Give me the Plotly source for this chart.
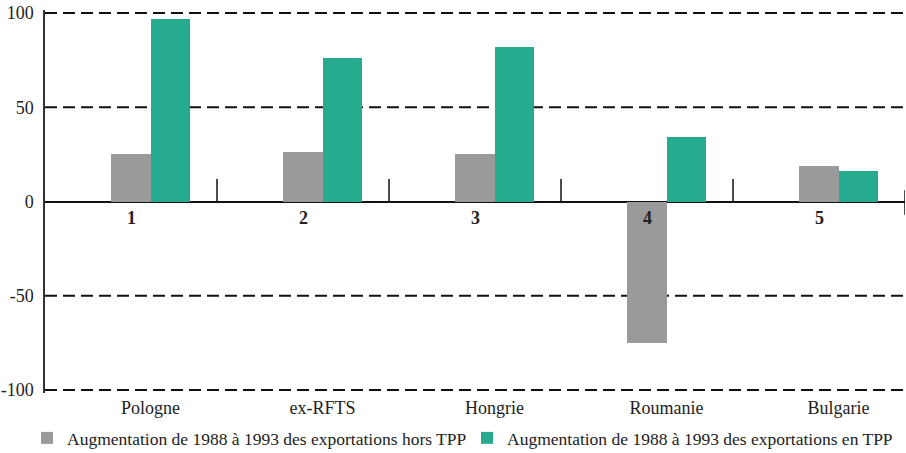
import plotly.graph_objects as go

categories = ["Pologne", "ex-RFTS", "Hongrie", "Roumanie", "Bulgarie"]
numbers = ["1", "2", "3", "4", "5"]
hors_tpp = [25, 26, 25, -75, 19]
en_tpp = [97, 76, 82, 34, 16]
y_ticks = [100, 50, 0, -50, -100]
series_names = ["Augmentation de 1988 à 1993 des exportations hors TPP",
                "Augmentation de 1988 à 1993 des exportations en TPP"]

FONT = "Liberation Serif"
GREY = "#9a9a9a"
TEAL = "#27ab8f"
W = 0.227

idx = list(range(1, len(categories) + 1))

fig = go.Figure()
fig.add_trace(go.Bar(x=[i for i in idx], y=hors_tpp, width=W, name=series_names[0],
                     marker=dict(color=GREY, line=dict(width=0)), legend="legend"))
fig.add_trace(go.Bar(x=[i + W for i in idx], y=en_tpp, width=W, name=series_names[1],
                     marker=dict(color=TEAL, line=dict(width=0)), legend="legend2"))

shapes = []
for v in y_ticks:
    if v != 0:
        shapes.append(dict(type="line", xref="paper", yref="y", x0=0, x1=1, y0=v, y1=v,
                           line=dict(color="#111", width=2, dash="12px,6px"), layer="below"))
for i in idx[:-1]:
    shapes.append(dict(type="line", xref="x", yref="y", x0=i + 0.5, x1=i + 0.5, y0=0, y1=12,
                       line=dict(color="#111", width=1.5)))
shapes.append(dict(type="line", xref="x", yref="y", x0=5.5, x1=5.5, y0=-7, y1=6,
                   line=dict(color="#111", width=1.5)))

annotations = []
for i, n in zip(idx, numbers):
    annotations.append(dict(x=i, y=-9, xref="x", yref="y", text="<b>" + n + "</b>", showarrow=False,
                            font=dict(family=FONT, size=18, color="#222"), xanchor="center",
                            yanchor="middle"))

leg_common = dict(orientation="h", yanchor="middle", xanchor="left", y=-0.1175,
                  font=dict(family=FONT, size=17.5, color="#222"),
                  itemwidth=30, bgcolor="rgba(0,0,0,0)")

fig.update_layout(
    width=906, height=453,
    margin=dict(l=45, r=1, t=10, b=60, autoexpand=False),
    plot_bgcolor="white", paper_bgcolor="white",
    barmode="overlay",
    bargap=0,
    shapes=shapes,
    annotations=annotations,
    showlegend=True,
    legend=dict(x=-0.0209, **leg_common),
    legend2=dict(x=0.4907, **leg_common),
    xaxis=dict(range=[0.5, 5.5], tickvals=[i + W / 2 for i in idx], ticktext=categories,
               showgrid=False, zeroline=False, showline=False, ticks="",
               ticklabelstandoff=2,
               tickfont=dict(family=FONT, size=18, color="#222")),
    yaxis=dict(range=[-101.6, 101.6], tickvals=y_ticks, ticktext=[str(v) for v in y_ticks],
               showgrid=False, zeroline=True, zerolinecolor="#111", zerolinewidth=1.5,
               showline=True, linecolor="#333", linewidth=1.5, ticks="",
               ticklabelstandoff=6,
               tickfont=dict(family=FONT, size=18, color="#222")),
)

fig.write_html("out.html",
               config={"displayModeBar": False},
               post_script="document.body.style.margin='0px';document.body.style.overflow='hidden';")
